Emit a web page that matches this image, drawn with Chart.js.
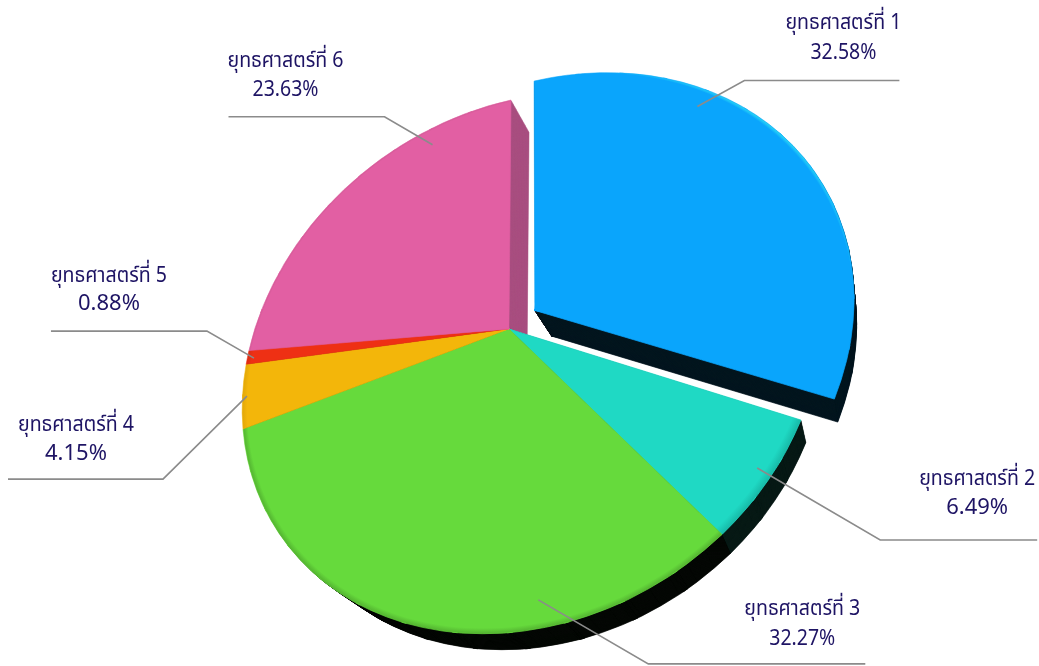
<!DOCTYPE html>
<html>
<head>
<meta charset="utf-8">
<script src="https://cdn.jsdelivr.net/npm/chart.js@4"></script>
<style>
  html, body { margin: 0; background: #fff; }
  canvas { display: block; }
</style>
</head>
<body>
<canvas id="pie" width="1039" height="666"></canvas>
<script>
const categories = ['ยุทธศาสตร์ที่ 1', 'ยุทธศาสตร์ที่ 2', 'ยุทธศาสตร์ที่ 3', 'ยุทธศาสตร์ที่ 4', 'ยุทธศาสตร์ที่ 5', 'ยุทธศาสตร์ที่ 6'];
const shares = [32.58, 6.49, 32.27, 4.15, 0.88, 23.63];

const faceColors = ['#0aa5fc', '#1fd9c4', '#66da3c', '#f3b60a', '#ee3014', '#e25fa3'];
const rimColors = ['#30e4f4', '#17b8a6', '#52b030', '#e0a608', '#d82c12', '#cf5a94'];
const rimStart = [0.985, 0.97, 0.98, 0.98, 0.98, 0.99];
const wallColors = ['#04161f', '#081a16', '#050805', '#050805', '#050805', '#a94f80'];
// chart.js moves an arc by a quarter of its offset
const sliceOffsets = [116, 0, 0, 0, 0, 0];

// perspective of the tilted disc, unit circle -> page
const PERSPECTIVE = { a: 285.16, b: -2.28, c: -46.2, d: 261.2, g: -0.08, h: -0.1407, ox: 509, oy: 329 };
// back face of the extrusion
const DEPTH = { sx: 0.955, sy: 0.97, tx: 41, ty: 35, steps: 30 };

// where each leader touches its slice and how it runs off to the label
const leaders = [
  { along: 0.339, radius: 0.938, elbow: [47, -26], end: 155, textX: 99, textY: [-56, -26] },
  { along: 0.463, radius: 0.954, elbow: [123, 72], end: 157, textX: 97, textY: [-59, -30] },
  { along: 0.287, radius: 0.918, elbow: [110, 64], end: 217, textX: 154, textY: [-53, -23] },
  { along: 0.488, radius: 0.982, elbow: [-84, 83], end: -155, textX: -87, textY: [-53, -24] },
  { along: 0.390, radius: 0.972, elbow: [-47, -27], end: -156, textX: -98, textY: [-54, -26] },
  { along: 0.765, radius: 0.920, elbow: [-48, -28], end: -156, textX: -99, textY: [-54, -25] }
];

function project(p, u, v) {
  const w = 1 + p.g * u + p.h * v;
  return [p.ox + (p.a * u + p.b * v) / w, p.oy + (p.c * u + p.d * v) / w];
}

// affine map taking three source points onto three target points
function applyAffine(ctx, s, t) {
  const dx1 = s[1][0] - s[0][0], dy1 = s[1][1] - s[0][1], dx2 = s[2][0] - s[0][0], dy2 = s[2][1] - s[0][1];
  const det = dx1 * dy2 - dx2 * dy1;
  const m11 = ((t[1][0] - t[0][0]) * dy2 - (t[2][0] - t[0][0]) * dy1) / det;
  const m12 = ((t[2][0] - t[0][0]) * dx1 - (t[1][0] - t[0][0]) * dx2) / det;
  const m21 = ((t[1][1] - t[0][1]) * dy2 - (t[2][1] - t[0][1]) * dy1) / det;
  const m22 = ((t[2][1] - t[0][1]) * dx1 - (t[1][1] - t[0][1]) * dx2) / det;
  ctx.transform(m11, m21, m12, m22, t[0][0] - m11 * s[0][0] - m12 * s[0][1], t[0][1] - m21 * s[0][0] - m22 * s[0][1]);
}

// draw one library arc through the perspective, cut into thin wedges
function drawArcInPerspective(ctx, arc) {
  const { x, y, startAngle, endAngle, outerRadius: R } = arc;
  const off = (arc.options.offset || 0) / 4;
  const mid = (startAngle + endAngle) / 2;
  const ax = x + Math.cos(mid) * off, ay = y + Math.sin(mid) * off;
  const n = Math.max(1, Math.ceil((endAngle - startAngle) / (Math.PI / 18)));
  const step = (endAngle - startAngle) / n;
  const toPage = (px, py) => project(PERSPECTIVE, (px - x) / R, (py - y) / R);
  for (let k = 0; k < n; k++) {
    const a1 = startAngle + k * step, a2 = a1 + step, am = a1 + step / 2;
    const rim1 = [ax + Math.cos(a1) * R, ay + Math.sin(a1) * R];
    const rim2 = [ax + Math.cos(a2) * R, ay + Math.sin(a2) * R];
    ctx.save();
    applyAffine(ctx, [[ax, ay], rim1, rim2], [toPage(ax, ay), toPage(rim1[0], rim1[1]), toPage(rim2[0], rim2[1])]);
    const eps = 0.008, far = R * 1.1, back = 8;
    ctx.beginPath();
    ctx.moveTo(ax - Math.cos(am) * back, ay - Math.sin(am) * back);
    ctx.lineTo(ax + Math.cos(a1 - eps) * far, ay + Math.sin(a1 - eps) * far);
    ctx.lineTo(ax + Math.cos(a2 + eps) * far, ay + Math.sin(a2 + eps) * far);
    ctx.closePath();
    ctx.clip();
    arc.draw(ctx);
    ctx.restore();
  }
}

const tiltedPie = {
  id: 'tiltedPie',
  beforeDatasetsDraw(chart) {
    const ctx = chart.ctx;
    const arcs = chart.getDatasetMeta(0).data;
    // walls, back to front
    for (let s = DEPTH.steps; s >= 1; s--) {
      const t = s / DEPTH.steps;
      ctx.save();
      ctx.transform(1 + t * (DEPTH.sx - 1), 0, 0, 1 + t * (DEPTH.sy - 1), t * DEPTH.tx, t * DEPTH.ty);
      arcs.forEach((arc, i) => {
        const saved = arc.options;
        arc.options = Object.assign(Object.create(saved), { backgroundColor: wallColors[i], borderColor: wallColors[i] });
        drawArcInPerspective(ctx, arc);
        arc.options = saved;
      });
      ctx.restore();
    }
    arcs.forEach(arc => drawArcInPerspective(ctx, arc));
    return false;
  },
  afterDraw(chart) {
    const ctx = chart.ctx;
    const arcs = chart.getDatasetMeta(0).data;
    arcs.forEach((arc, i) => {
      const l = leaders[i];
      const mid = (arc.startAngle + arc.endAngle) / 2;
      const off = (arc.options.offset || 0) / 4 / arc.outerRadius;
      const ang = arc.startAngle + (arc.endAngle - arc.startAngle) * l.along;
      const at = project(PERSPECTIVE,
        Math.cos(ang) * l.radius + Math.cos(mid) * off,
        Math.sin(ang) * l.radius + Math.sin(mid) * off);
      const ex = at[0] + l.elbow[0], ey = at[1] + l.elbow[1];
      ctx.save();
      ctx.strokeStyle = '#8b8b8b';
      ctx.lineWidth = 1.6;
      ctx.beginPath();
      ctx.moveTo(at[0], at[1]);
      ctx.lineTo(ex, ey);
      ctx.lineTo(ex + l.end, ey);
      ctx.stroke();
      ctx.fillStyle = '#1e1464';
      ctx.font = '22px "Noto Sans Thai", "Noto Sans", "Liberation Sans", sans-serif';
      ctx.textAlign = 'center';
      ctx.textBaseline = 'middle';
      ctx.fillText(categories[i], ex + l.textX, ey + l.textY[0], 116);
      ctx.fillText(shares[i].toFixed(2) + '%', ex + l.textX, ey + l.textY[1], 66);
      ctx.restore();
    });
  }
};

function rimGradient(context) {
  const chart = context.chart;
  const area = chart.chartArea;
  const i = context.dataIndex;
  if (!area) return faceColors[i];
  // slice 1 only catches the light on its upper right edge
  const shift = i === 0 ? 14 : 0;
  const cx = (area.left + area.right) / 2 - 0.82 * shift, cy = (area.top + area.bottom) / 2 + 0.57 * shift;
  const R = (Math.min(area.width, area.height) - Math.max(...sliceOffsets)) / 2 + shift * 1.25;
  const g = chart.ctx.createRadialGradient(cx, cy, 0, cx, cy, R);
  g.addColorStop(0, faceColors[i]);
  g.addColorStop(rimStart[i], faceColors[i]);
  g.addColorStop(1, rimColors[i]);
  return g;
}

new Chart(document.getElementById('pie'), {
  type: 'pie',
  data: {
    labels: categories,
    datasets: [{
      data: shares,
      backgroundColor: rimGradient,
      borderColor: faceColors,
      borderWidth: 0.6,
      offset: sliceOffsets
    }]
  },
  options: {
    responsive: false,
    animation: false,
    plugins: { legend: { display: false }, tooltip: { enabled: false } }
  },
  plugins: [tiltedPie]
});
</script>
</body>
</html>
